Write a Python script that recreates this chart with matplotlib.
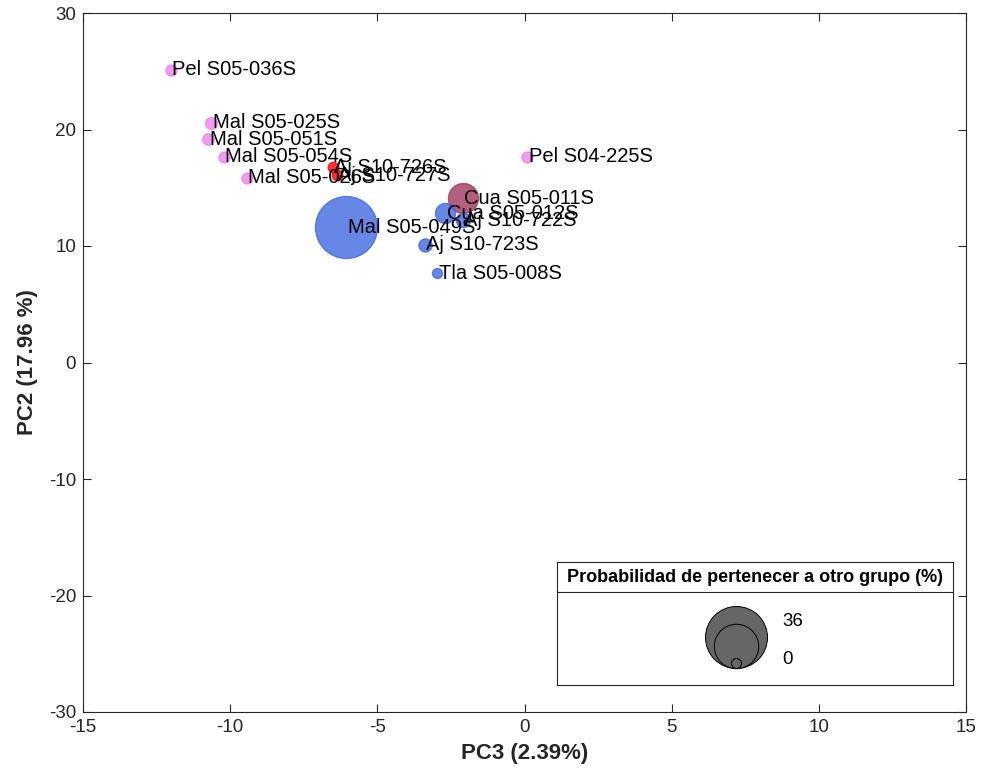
import numpy as np
import matplotlib
matplotlib.use("Agg")
import matplotlib.pyplot as plt

plt.rcParams['font.family'] = ['Liberation Sans', 'DejaVu Sans']
plt.rcParams['axes.unicode_minus'] = False

# PCA scores (PC3 vs PC2) and probability of belonging to another group
labels = ['Pel S05-036S', 'Mal S05-025S', 'Mal S05-051S', 'Mal S05-054S', 'Mal S05-026S',
          'Aj S10-726S', 'Aj S10-727S', 'Mal S05-049S', 'Pel S04-225S', 'Cua S05-011S',
          'Cua S05-012S', 'Aj S10-722S', 'Aj S10-723S', 'Tla S05-008S']
pc3 = [-12.01, -10.65, -10.75, -10.21, -9.43,
       -6.51, -6.37, -6.06, 0.09, -2.09,
       -2.70, -2.09, -3.38, -2.97]
pc2 = [25.11, 20.56, 19.18, 17.64, 15.84,
       16.78, 16.09, 11.63, 17.64, 14.12,
       12.83, 12.23, 10.09, 7.68]
prob = [0.2, 0.4, 0.3, 0.2, 0.2,
        0.1, 0.1, 36.0, 0.2, 7.7,
        2.9, 1.0, 0.7, 0.0]
group = ['pel', 'mal', 'mal', 'mal', 'mal',
         'aj', 'aj', 'blue', 'pel', 'cua',
         'blue', 'blue', 'blue', 'blue']

group_colors = {'pel': '#EE82EE', 'mal': '#EE82EE', 'aj': '#FF0000',
                'blue': '#4169E1', 'cua': '#A03860'}

# bubble diameters (points), area scales linearly with probability
dmin, dmax = 10 * 0.72, 62 * 0.72
pmin, pmax = 0.0, 36.0


def bubble_area(p):
    p = np.asarray(p, dtype=float)
    return dmin ** 2 + (dmax ** 2 - dmin ** 2) * (p - pmin) / (pmax - pmin)


fig = plt.figure(figsize=(9.82, 7.80), dpi=100)
ax = fig.add_axes([83 / 982, 68 / 780, 883 / 982, 699 / 780])

sizes = bubble_area(prob)
for i in range(len(labels)):
    c = group_colors[group[i]]
    ax.scatter(pc3[i], pc2[i], s=sizes[i], color=c, alpha=0.8,
               edgecolors=c, linewidths=1.0, zorder=2)
for i in range(len(labels)):
    ax.text(pc3[i] + 0.05, pc2[i], labels[i], fontsize=14.5, ha='left', va='center',
            color='black', zorder=3)

ax.set_xlim(-15, 15)
ax.set_ylim(-30, 30)
ax.set_xticks(np.arange(-15, 16, 5))
ax.set_yticks(np.arange(-30, 31, 10))
ax.tick_params(direction='in', length=6, width=0.8, top=True, right=True,
               labelsize=13.5, colors='#262626', pad=5)
for sp in ax.spines.values():
    sp.set_color('#262626')
    sp.set_linewidth(0.8)
ax.set_xlabel('PC3 (2.39%)', fontsize=16, fontweight='bold', color='#262626', labelpad=5)
ax.set_ylabel('PC2 (17.96 %)', fontsize=16, fontweight='bold', color='#262626', labelpad=8)

# bubble size legend
lax = fig.add_axes([557 / 982, 95 / 780, 396 / 982, 123 / 780])
lax.set_xlim(0, 396)
lax.set_ylim(0, 123)
lax.set_xticks([])
lax.set_yticks([])
for sp in lax.spines.values():
    sp.set_color('#262626')
    sp.set_linewidth(0.8)
lax.axhline(93, color='#262626', lw=0.8)
lax.text(198, 108, 'Probabilidad de pertenecer a otro grupo (%)', fontsize=13,
         fontweight='bold', ha='center', va='center')
leg_vals = [pmax, (pmin + pmax) / 2, pmin]
for v in leg_vals:
    s = bubble_area(v)
    d_px = np.sqrt(s) / 0.72
    lax.scatter(179, 17 + d_px / 2, s=s, color='#666666', edgecolors='black',
                linewidths=0.7)
lax.text(225, 64, '36', fontsize=13.5, ha='left', va='center')
lax.text(225, 25, '0', fontsize=13.5, ha='left', va='center')

fig.savefig('out.png', dpi=100)
